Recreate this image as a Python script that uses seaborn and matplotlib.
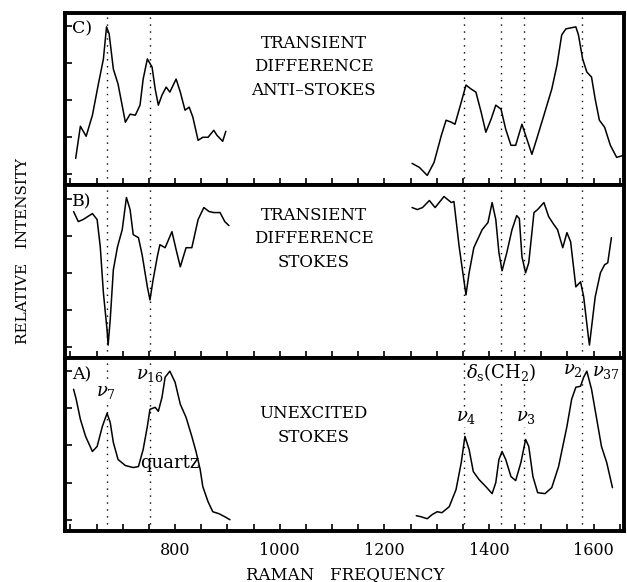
import pandas as pd
import seaborn as sns
import matplotlib.pyplot as plt
from matplotlib.ticker import MultipleLocator

# Raman spectra (frequency in cm-1, intensity in arbitrary units)
# panel C: transient difference anti-Stokes
c_low_freq = [610, 619, 630, 642, 653, 663, 669, 674, 682, 691, 705, 714, 724, 733, 739, 747,
              756, 762, 768, 775, 783, 790, 802, 810, 819, 827, 834, 844, 853, 863, 874, 880, 891, 897]
c_low_int = [27, 59, 49, 70, 100, 126, 158, 151, 116, 101, 63, 71, 70, 80, 106, 126,
             118, 96, 80, 90, 98, 93, 106, 93, 75, 78, 68, 45, 48, 48, 55, 50, 44, 54]
c_high_freq = [1253, 1267, 1282, 1295, 1309, 1318, 1328, 1335, 1347, 1356, 1366, 1375, 1385, 1394,
               1404, 1413, 1423, 1432, 1442, 1451, 1463, 1470, 1482, 1491, 1505, 1520, 1530, 1539,
               1547, 1566, 1571, 1579, 1587, 1596, 1603, 1611, 1621, 1632, 1644, 1657]
c_high_int = [22, 18, 10, 23, 50, 65, 63, 61, 83, 100, 96, 93, 73, 53,
              66, 80, 76, 56, 40, 40, 61, 50, 31, 46, 70, 96, 120, 150,
              156, 158, 150, 126, 113, 108, 86, 65, 58, 40, 28, 30]

# panel B: transient difference Stokes
b_low_freq = [606, 615, 624, 642, 651, 657, 663, 670, 672, 676, 682, 690, 699, 707, 714, 720,
              730, 737, 747, 752, 758, 766, 771, 781, 794, 802, 810, 821, 832, 844, 855, 865,
              874, 886, 895, 903]
b_low_int = [146, 136, 138, 144, 138, 111, 65, 28, 13, 38, 88, 111, 128, 160, 148, 123,
             120, 103, 71, 58, 78, 101, 113, 110, 126, 108, 91, 110, 110, 138, 150, 146,
             145, 145, 136, 132]
b_high_freq = [1253, 1263, 1273, 1286, 1297, 1314, 1328, 1333, 1343, 1356, 1362, 1371, 1387, 1398,
               1406, 1413, 1419, 1425, 1434, 1444, 1453, 1458, 1463, 1470, 1476, 1486, 1493, 1505,
               1514, 1524, 1531, 1541, 1549, 1556, 1566, 1575, 1581, 1590, 1592, 1603, 1613, 1621,
               1627, 1634]
b_high_int = [150, 148, 150, 157, 150, 161, 155, 156, 111, 63, 85, 110, 128, 135,
              155, 138, 105, 87, 105, 128, 142, 139, 101, 85, 95, 145, 148, 155,
              141, 133, 128, 110, 125, 116, 71, 76, 61, 21, 13, 61, 85, 93,
              95, 120]

# panel A: unexcited Stokes
a_low_freq = [606, 611, 619, 629, 642, 651, 661, 670, 676, 682, 691, 705, 720, 730, 739, 747,
              752, 762, 768, 775, 781, 790, 800, 810, 821, 832, 840, 848, 853, 863, 872, 884,
              895, 905]
a_low_int = [141, 131, 111, 94, 79, 84, 104, 117, 108, 88, 71, 65, 63, 64, 81, 104,
             121, 123, 119, 133, 153, 159, 148, 126, 113, 94, 79, 61, 44, 29, 19, 17,
             14, 11]
a_high_freq = [1261, 1270, 1282, 1291, 1301, 1310, 1324, 1337, 1347, 1354, 1362, 1370, 1381, 1394,
               1406, 1413, 1419, 1425, 1432, 1442, 1451, 1461, 1470, 1476, 1484, 1493, 1507, 1520,
               1533, 1549, 1558, 1566, 1575, 1581, 1587, 1596, 1606, 1615, 1625, 1636]
a_high_int = [15, 14, 12, 16, 19, 18, 24, 41, 68, 94, 81, 59, 51, 44,
              37, 48, 71, 79, 71, 54, 50, 68, 91, 84, 54, 38, 37, 43,
              64, 104, 131, 143, 144, 153, 159, 141, 111, 84, 68, 43]

# dotted marker lines (cm-1)
marker_freqs = [669, 752, 1352, 1423, 1467, 1578]

panel_names = ['C)', 'B)', 'A)']
panel_titles = ['TRANSIENT\nDIFFERENCE\nANTI\u2013STOKES', 'TRANSIENT\nDIFFERENCE\nSTOKES',
                'UNEXCITED\nSTOKES']
title_heights = [0.872, 0.878, 0.727]

# band labels in the bottom panel: (text, freq, intensity)
band_labels = [(r'$\nu_7$', 668, 138), (r'$\nu_{16}$', 752, 155),
               (r'$\delta_\mathrm{s}$(CH$_2$)', 1424, 158), (r'$\nu_2$', 1560, 160),
               (r'$\nu_{37}$', 1623, 158), (r'$\nu_4$', 1356, 113), (r'$\nu_3$', 1470, 113)]
quartz_label = ('quartz', 790, 68)


def make_frame(low_f, low_i, high_f, high_i):
    lo = pd.DataFrame({'freq': low_f, 'intensity': low_i, 'segment': 'low'})
    hi = pd.DataFrame({'freq': high_f, 'intensity': high_i, 'segment': 'high'})
    return pd.concat([lo, hi], ignore_index=True)


frames = [make_frame(c_low_freq, c_low_int, c_high_freq, c_high_int),
          make_frame(b_low_freq, b_low_int, b_high_freq, b_high_int),
          make_frame(a_low_freq, a_low_int, a_high_freq, a_high_int)]

sns.set_style('ticks')
plt.rcParams['font.family'] = ['DejaVu Serif']
plt.rcParams['mathtext.fontset'] = 'dejavuserif'
plt.rcParams['text.color'] = 'black'
plt.rcParams['axes.labelcolor'] = 'black'
plt.rcParams['axes.edgecolor'] = 'black'
plt.rcParams['xtick.color'] = 'black'
plt.rcParams['ytick.color'] = 'black'

fig, axes = plt.subplots(3, 1, figsize=(6.27, 5.82), dpi=100, sharex=True)
fig.subplots_adjust(left=0.104, right=0.996, top=0.978, bottom=0.088, hspace=0)

for ax, df, name, title, th in zip(axes, frames, panel_names, panel_titles, title_heights):
    sns.lineplot(data=df, x='freq', y='intensity', units='segment', estimator=None,
                 color='black', linewidth=1.1, ax=ax, legend=False, zorder=2)
    for f in marker_freqs:
        ax.axvline(f, color='black', linestyle=(0, (1, 4)), linewidth=1.0, zorder=0)
    ax.set_xlim(590, 1659)
    ax.set_ylim(0, 172)
    ax.set_yticks([11, 48, 85, 122, 159])
    ax.set_yticklabels([])
    ax.xaxis.set_major_locator(MultipleLocator(200))
    ax.xaxis.set_minor_locator(MultipleLocator(50))
    ax.tick_params(axis='both', which='both', direction='in', length=5, width=1.2,
                   labelsize=11.5, pad=8, top=False, right=False)
    ax.set_xlabel('')
    ax.set_ylabel('')
    for s in ax.spines.values():
        s.set_linewidth(2.8)
        s.set_visible(True)
    ax.text(0.012, 0.905, name, transform=ax.transAxes, fontsize=12.5, va='center', ha='left')
    ax.text(0.444, th, title, transform=ax.transAxes, fontsize=12, va='top', ha='center',
            linespacing=1.5)

for text, f, val in band_labels:
    axes[2].text(f, val, text, fontsize=13, ha='center', va='center', zorder=1,
                 bbox=dict(facecolor='white', edgecolor='none', pad=0.5))
axes[2].text(quartz_label[1], quartz_label[2], quartz_label[0], fontsize=13,
             ha='center', va='center', zorder=3)

axes[2].set_xticks([800, 1000, 1200, 1400, 1600])
axes[2].set_xlabel('RAMAN   FREQUENCY', fontsize=12, labelpad=5)
fig.text(0.037, 0.569, 'RELATIVE   INTENSITY', rotation=90, fontsize=11, ha='center', va='center')

plt.savefig('out.png', dpi=100)
